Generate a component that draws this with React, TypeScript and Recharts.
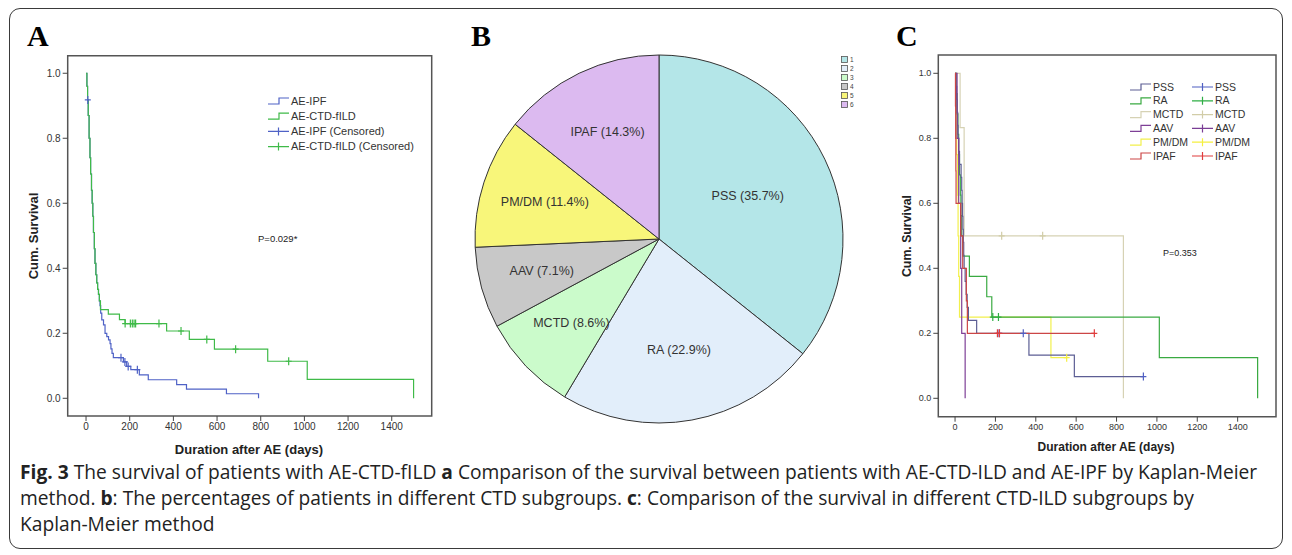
import React from 'react';
import { ComposedChart, Line, Scatter, XAxis, YAxis, ReferenceArea, PieChart, Pie } from 'recharts';

// ---- Panel A: Kaplan-Meier, AE-IPF vs AE-CTD-fILD ----
const ipfCurve = [
  [0, 1], [4, 0.96], [7, 0.918], [10, 0.87], [14, 0.8], [18, 0.74], [21, 0.69], [25, 0.64], [28, 0.6],
  [31, 0.56], [34, 0.51], [38, 0.46], [41, 0.415], [45, 0.38], [49, 0.355], [53, 0.335], [57, 0.32],
  [61, 0.3], [64, 0.285], [67, 0.262], [72, 0.241], [80, 0.226], [87, 0.2], [95, 0.19], [103, 0.18],
  [110, 0.168], [114, 0.152], [119, 0.138], [125, 0.125], [171, 0.112], [186, 0.098], [205, 0.088],
  [244, 0.072], [285, 0.057], [415, 0.042], [460, 0.028], [643, 0.014], [790, 0],
];
const ipfCensored = [[8, 0.918], [160, 0.125], [178, 0.112], [193, 0.098], [235, 0.088]];

const ctdCurve = [
  [0, 1], [4, 0.96], [7, 0.918], [10, 0.87], [14, 0.8], [18, 0.74], [21, 0.69], [25, 0.64], [28, 0.6],
  [31, 0.56], [34, 0.51], [38, 0.46], [41, 0.415], [45, 0.38], [49, 0.355], [53, 0.335], [57, 0.32],
  [61, 0.3], [66, 0.273], [102, 0.259], [153, 0.242], [179, 0.23], [369, 0.207], [473, 0.181],
  [588, 0.151], [832, 0.114], [1013, 0.058], [1500, 0],
];
const ctdCensored = [
  [179, 0.23], [203, 0.23], [212, 0.23], [220, 0.23], [227, 0.23], [334, 0.23],
  [435, 0.207], [553, 0.181], [685, 0.151], [928, 0.114],
];

// ---- Panel B: CTD subgroups ----
const subgroupNames = ['PSS', 'RA', 'MCTD', 'AAV', 'PM/DM', 'IPAF'];
const subgroupCounts = [25, 16, 6, 5, 8, 10];
const subgroupColors = ['#b4e6e8', '#e2eefa', '#cbfbcb', '#c8c8c8', '#f8f67a', '#dcbaf0'];

// ---- Panel C: Kaplan-Meier by subgroup ----
const pssCurve = [
  [0, 1], [5, 0.96], [8, 0.92], [10, 0.88], [13, 0.84], [15, 0.8], [18, 0.76], [22, 0.72], [30, 0.68],
  [33, 0.64], [35, 0.6], [37, 0.56], [39, 0.52], [41, 0.48], [43, 0.44], [45, 0.4], [50, 0.36],
  [55, 0.32], [60, 0.28], [66, 0.24], [107, 0.2], [366, 0.133], [591, 0.067], [933, 0.067],
];
const pssCensored = [[218, 0.2], [338, 0.2], [933, 0.067]];
const raCurve = [
  [0, 1], [5, 0.9375], [10, 0.875], [14, 0.8125], [18, 0.75], [22, 0.6875], [26, 0.625], [29, 0.5625],
  [33, 0.5], [38, 0.4375], [71, 0.375], [157, 0.3125], [182, 0.25], [1012, 0.125], [1499, 0],
];
const raCensored = [[187, 0.25], [215, 0.25]];
const mctdCurve = [[0, 1], [25, 0.833], [45, 0.5], [834, 0]];
const mctdCensored = [[231, 0.5], [434, 0.5]];
const aavCurve = [[0, 1], [10, 0.8], [18, 0.6], [28, 0.4], [33, 0.2], [50, 0]];
const pmdmCurve = [[0, 1], [5, 0.875], [8, 0.75], [12, 0.625], [15, 0.5], [18, 0.375], [22, 0.25], [475, 0.125], [553, 0.125]];
const pmdmCensored = [[553, 0.125]];
const ipafCurve = [[0, 1], [2, 0.9], [3, 0.8], [4, 0.7], [5, 0.6], [28, 0.5], [38, 0.4], [56, 0.3], [61, 0.2], [690, 0.2]];
const ipafCensored = [[210, 0.2], [220, 0.2], [690, 0.2]];

const xTicks = [0, 200, 400, 600, 800, 1000, 1200, 1400];
const yTicks = [0, 0.2, 0.4, 0.6, 0.8, 1.0];

const AXIS_FONT = 'Arial, "Liberation Sans", sans-serif';
const BLUE = '#4f62c6';
const GREEN = '#3fba48';

const toPts = (arr: number[][]) => arr.map(([t, s]) => ({ t, s }));

const censorShape = (color: string) => (props: any) => {
  const { cx, cy } = props;
  return (
    <g>
      <line x1={cx} x2={cx} y1={cy - 4} y2={cy + 4} stroke={color} strokeWidth={1.2} />
      <line x1={cx - 3} x2={cx + 3} y1={cy} y2={cy} stroke={color} strokeWidth={1.2} />
    </g>
  );
};

interface Curve { data: number[][]; color: string }

interface KmProps {
  left: number;
  width: number;
  height: number;
  margin: { top: number; right: number; bottom: number; left: number };
  xDomain: [number, number];
  yDomain: [number, number];
  tickFont: number;
  curves: Curve[];
  marks: Curve[];
}

const KmPanel: React.FC<KmProps> = ({ left, width, height, margin, xDomain, yDomain, tickFont, curves, marks }) => {
  const tickStyle = { fontSize: tickFont, fill: '#333', fontFamily: AXIS_FONT };
  return (
    <div style={{ position: 'absolute', left, top: 0 }}>
      <ComposedChart width={width} height={height} margin={margin}>
        <XAxis type="number" dataKey="t" domain={xDomain} ticks={xTicks} allowDataOverflow
          axisLine={false} tickLine={{ stroke: '#444' }} tickSize={5} tick={tickStyle} height={30} />
        <YAxis type="number" dataKey="s" domain={yDomain} ticks={yTicks} allowDataOverflow
          tickFormatter={(v: number) => v.toFixed(1)}
          axisLine={false} tickLine={{ stroke: '#444' }} tickSize={5} tick={tickStyle} width={40} />
        <ReferenceArea x1={xDomain[0]} x2={xDomain[1]} y1={yDomain[0]} y2={yDomain[1]}
          fill="none" stroke="#555" strokeWidth={1.5} ifOverflow="visible" />
        {curves.map((c, i) => (
          <Line key={'l' + i} data={toPts(c.data)} dataKey="s" type="stepAfter" stroke={c.color}
            strokeWidth={1.2} dot={false} activeDot={false} isAnimationActive={false} />
        ))}
        {marks.map((m, i) => (
          <Scatter key={'s' + i} data={toPts(m.data)} dataKey="s" fill={m.color}
            shape={censorShape(m.color)} isAnimationActive={false} />
        ))}
      </ComposedChart>
    </div>
  );
};

interface LegendItem { label: string; color: string; kind: 'line' | 'cens' }

const KmLegend: React.FC<{ items: LegendItem[]; x: number; y: number; gap: number; fontSize: number }> = ({ items, x, y, gap, fontSize }) => (
  <svg style={{ position: 'absolute', left: x, top: y, overflow: 'visible' }} width={10} height={10}>
    {items.map((it, i) => {
      const cy = i * gap;
      return (
        <g key={i}>
          {it.kind === 'line' ? (
            <path d={`M0 ${cy + 3} H11 V${cy - 3} H21`} fill="none" stroke={it.color} strokeWidth={1.2} />
          ) : (
            <path d={`M0 ${cy} H21 M10.5 ${cy - 4} V${cy + 4}`} fill="none" stroke={it.color} strokeWidth={1.2} />
          )}
          <text x={23} y={cy} dy="0.35em" fontSize={fontSize} fontFamily={AXIS_FONT} fill="#333">{it.label}</text>
        </g>
      );
    })}
  </svg>
);

const Abs: React.FC<{ x: number; y: number; style?: React.CSSProperties; children: React.ReactNode }> = ({ x, y, style, children }) => (
  <div style={{ position: 'absolute', left: x, top: y, whiteSpace: 'nowrap', ...style }}>{children}</div>
);

const legendA: LegendItem[] = [
  { label: 'AE-IPF', color: BLUE, kind: 'line' },
  { label: 'AE-CTD-fILD', color: GREEN, kind: 'line' },
  { label: 'AE-IPF (Censored)', color: BLUE, kind: 'cens' },
  { label: 'AE-CTD-fILD (Censored)', color: GREEN, kind: 'cens' },
];

const cColors = {
  PSS: '#5c5e94', RA: '#3aaa42', MCTD: '#d6d2b4', AAV: '#7e3f96', PMDM: '#f2f04c', IPAF: '#cc4646',
};
const cMarkColors = {
  PSS: '#4f5fc2', RA: '#2fae45', MCTD: '#d2cda8', AAV: '#7a3d95', PMDM: '#f5f040', IPAF: '#e03c3c',
};

const legendC1: LegendItem[] = [
  { label: 'PSS', color: cColors.PSS, kind: 'line' },
  { label: 'RA', color: cColors.RA, kind: 'line' },
  { label: 'MCTD', color: cColors.MCTD, kind: 'line' },
  { label: 'AAV', color: cColors.AAV, kind: 'line' },
  { label: 'PM/DM', color: cColors.PMDM, kind: 'line' },
  { label: 'IPAF', color: cColors.IPAF, kind: 'line' },
];
const legendC2: LegendItem[] = [
  { label: 'PSS', color: cMarkColors.PSS, kind: 'cens' },
  { label: 'RA', color: cMarkColors.RA, kind: 'cens' },
  { label: 'MCTD', color: cMarkColors.MCTD, kind: 'cens' },
  { label: 'AAV', color: cMarkColors.AAV, kind: 'cens' },
  { label: 'PM/DM', color: cMarkColors.PMDM, kind: 'cens' },
  { label: 'IPAF', color: cMarkColors.IPAF, kind: 'cens' },
];

const total = subgroupCounts.reduce((a, b) => a + b, 0);
const pieData = subgroupNames.map((name, i) => ({
  name,
  value: subgroupCounts[i],
  fill: subgroupColors[i],
  pct: ((subgroupCounts[i] / total) * 100).toFixed(1),
}));

const RAD = Math.PI / 180;
const renderPieLabel = (props: any) => {
  const { cx, cy, midAngle, outerRadius, percent, payload } = props;
  const theta = percent * 2 * Math.PI;
  const r = (4 * outerRadius * Math.sin(theta / 2)) / (3 * theta);
  const x = cx + r * Math.cos(-midAngle * RAD);
  const y = cy + r * Math.sin(-midAngle * RAD);
  const d = payload?.payload ?? payload;
  return (
    <text x={x} y={y} textAnchor="middle" dominantBaseline="central" fontSize={12.5}
      fontFamily={AXIS_FONT} fill="#333">
      {`${d.name} (${d.pct}%)`}
    </text>
  );
};

const letterStyle: React.CSSProperties = {
  fontFamily: '"Liberation Serif", "Times New Roman", serif', fontWeight: 'bold', fontSize: 30, lineHeight: '30px',
};
const titleStyle: React.CSSProperties = { fontFamily: AXIS_FONT, fontWeight: 'bold', color: '#222' };

export default function App() {
  return (
    <div style={{ position: 'absolute', left: 0, top: 0, width: 1292, height: 555, background: '#fff', overflow: 'hidden' }}>
      <div style={{ position: 'absolute', left: 9, top: 8, width: 1272, height: 539, border: '1.5px solid #3a3a3a', borderRadius: 11 }} />

      {/* Panel A */}
      <Abs x={27} y={21} style={letterStyle}>A</Abs>
      <KmPanel left={0} width={450} height={470}
        margin={{ top: 55.7, right: 18.3, bottom: 24, left: 27.7 }}
        xDomain={[-84, 1583]} yDomain={[-0.0545, 1.054]} tickFont={10}
        curves={[{ data: ipfCurve, color: BLUE }, { data: ctdCurve, color: GREEN }]}
        marks={[{ data: ipfCensored, color: BLUE }, { data: ctdCensored, color: GREEN }]} />
      <KmLegend items={legendA} x={268} y={101} gap={15.2} fontSize={11} />
      <Abs x={258} y={233} style={{ fontFamily: AXIS_FONT, fontSize: 9.5, color: '#222' }}>P=0.029*</Abs>
      <Abs x={33} y={236} style={{ ...titleStyle, fontSize: 13, transform: 'translate(-50%, -50%) rotate(-90deg)' }}>Cum. Survival</Abs>
      <Abs x={249} y={449} style={{ ...titleStyle, fontSize: 13, transform: 'translate(-50%, -50%)' }}>Duration after AE (days)</Abs>

      {/* Panel B */}
      <Abs x={471} y={21} style={letterStyle}>B</Abs>
      <div style={{ position: 'absolute', left: 458.7, top: 39 }}>
        <PieChart width={400} height={400} margin={{ top: 0, right: 0, bottom: 0, left: 0 }}>
          <Pie data={pieData} dataKey="value" nameKey="name" cx={200} cy={200} outerRadius={184}
            startAngle={90} endAngle={-270} stroke="#333" strokeWidth={1}
            label={renderPieLabel} labelLine={false} isAnimationActive={false} />
        </PieChart>
      </div>
      <svg style={{ position: 'absolute', left: 841, top: 55, overflow: 'visible' }} width={20} height={55}>
        {subgroupColors.map((c, i) => (
          <g key={i}>
            <rect x={0.5} y={1.5 + i * 9} width={6} height={6} fill={c} stroke="#555" strokeWidth={0.8} />
            <text x={9} y={4.5 + i * 9} dy="0.35em" fontSize={6.5} fontFamily={AXIS_FONT} fill="#444">{i + 1}</text>
          </g>
        ))}
      </svg>

      {/* Panel C */}
      <Abs x={896} y={21} style={letterStyle}>C</Abs>
      <KmPanel left={880} width={410} height={470}
        margin={{ top: 55, right: 14, bottom: 23.3, left: 18.3 }}
        xDomain={[-83, 1590]} yDomain={[-0.0566, 1.0563]} tickFont={9}
        curves={[
          { data: mctdCurve, color: cColors.MCTD },
          { data: pmdmCurve, color: cColors.PMDM },
          { data: raCurve, color: cColors.RA },
          { data: pssCurve, color: cColors.PSS },
          { data: aavCurve, color: cColors.AAV },
          { data: ipafCurve, color: cColors.IPAF },
        ]}
        marks={[
          { data: mctdCensored, color: cMarkColors.MCTD },
          { data: pmdmCensored, color: cMarkColors.PMDM },
          { data: raCensored, color: cMarkColors.RA },
          { data: pssCensored, color: cMarkColors.PSS },
          { data: ipafCensored, color: cMarkColors.IPAF },
        ]} />
      <KmLegend items={legendC1} x={1130} y={87} gap={13.8} fontSize={10.5} />
      <KmLegend items={legendC2} x={1192} y={87} gap={13.8} fontSize={10.5} />
      <Abs x={1163} y={248} style={{ fontFamily: AXIS_FONT, fontSize: 9, color: '#222' }}>P=0.353</Abs>
      <Abs x={907} y={236} style={{ ...titleStyle, fontSize: 12.3, transform: 'translate(-50%, -50%) rotate(-90deg)' }}>Cum. Survival</Abs>
      <Abs x={1106} y={447} style={{ ...titleStyle, fontSize: 12, transform: 'translate(-50%, -50%)' }}>Duration after AE (days)</Abs>

      {/* Caption */}
      <div style={{ position: 'absolute', left: 20, top: 459, fontFamily: '"Open Sans", "Noto Sans", sans-serif', fontSize: 19.2, lineHeight: '26px', color: '#222', whiteSpace: 'nowrap' }}>
        <b>Fig. 3</b> The survival of patients with AE-CTD-fILD <b>a</b> Comparison of the survival between patients with AE-CTD-ILD and AE-IPF by Kaplan-Meier<br />
        method. <b>b</b>: The percentages of patients in different CTD subgroups. <b>c</b>: Comparison of the survival in different CTD-ILD subgroups by<br />
        Kaplan-Meier method
      </div>
    </div>
  );
}
